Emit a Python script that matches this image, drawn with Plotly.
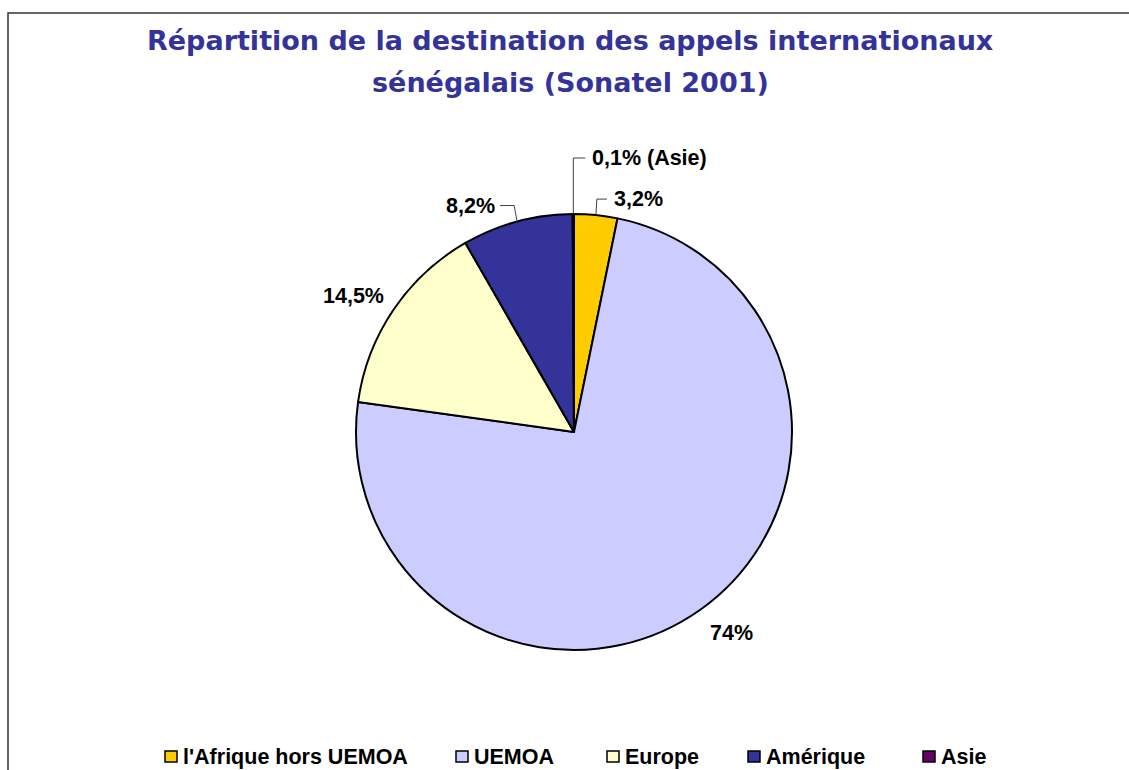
import math
import plotly.graph_objects as go

# Données : répartition des appels internationaux (Sonatel 2001)
categories = ["l'Afrique hors UEMOA", "UEMOA", "Europe", "Amérique", "Asie"]
parts = [3.2, 74.0, 14.5, 8.2, 0.1]
label_texts = ["3,2%", "74%", "14,5%", "8,2%", "0,1% (Asie)"]
colors = ["#FFCC00", "#CCCCFF", "#FFFFCC", "#333399", "#660066"]

W, H = 1129, 770
CX, CY, R = 574, 432, 218  # centre et rayon du camembert (px)

def px(x):
    return x / W

def py(y):
    return 1 - y / H

def polar(angle_deg, r):
    a = math.radians(angle_deg)
    return CX + r * math.sin(a), CY - r * math.cos(a)

LABEL_FONT = dict(family="Liberation Sans, Arial, sans-serif", size=21.5, color="#000000")

fig = go.Figure(go.Pie(
    labels=categories,
    values=parts,
    sort=False,
    direction="clockwise",
    rotation=0,
    marker=dict(colors=colors, line=dict(color="#000000", width=2)),
    textinfo="none",
    hoverinfo="label+percent",
    showlegend=False,
    domain=dict(x=[px(CX - R), px(CX + R)], y=[py(CY + R), py(CY - R)]),
))

# Angles médians de chaque secteur (sens horaire depuis midi)
total = sum(parts)
mids = []
acc = 0.0
for v in parts:
    mids.append((acc + v / 2) / total * 360)
    acc += v

annotations = []
shapes = []

# Étiquettes placées autour du disque (sans ligne de rappel) : rayon, décalage
radial = {1: (257, (9, -9)), 2: (258, (-7, 8))}
for i, (r, (ox, oy)) in radial.items():
    x, y = polar(mids[i], r)
    annotations.append(dict(x=px(x + ox), y=py(y + oy), xref="paper", yref="paper",
                            text=f"<b>{label_texts[i]}</b>", showarrow=False,
                            font=LABEL_FONT, xanchor="center", yanchor="middle"))

# Étiquettes avec ligne de rappel : (décalage du coude, longueur horizontale, côté)
leaders = {
    0: ((1, -16), 10, "right"),
    3: ((-3, -16), -14, "left"),
    4: ((0, -56), 12, "right"),
}
for i, ((dx, dy), hlen, side) in leaders.items():
    ex, ey = polar(mids[i], R)
    kx, ky = ex + dx, ey + dy
    tx = kx + hlen
    for (x0, y0, x1, y1) in [(ex, ey, kx, ky), (kx, ky, tx, ky)]:
        shapes.append(dict(type="line", xref="paper", yref="paper",
                           x0=px(x0), y0=py(y0), x1=px(x1), y1=py(y1),
                           line=dict(color="#404040", width=1)))
    anchor_x = tx + (5 if side == "right" else -3)
    annotations.append(dict(x=px(anchor_x), y=py(ky), xref="paper", yref="paper",
                            text=f"<b>{label_texts[i]}</b>", showarrow=False,
                            font=LABEL_FONT,
                            xanchor="left" if side == "right" else "right",
                            yanchor="middle"))

# Titre sur deux lignes
TITLE_FONT = dict(family="DejaVu Sans, sans-serif", size=27, color="#333399")
for txt, ty in [("Répartition de la destination des appels internationaux", 41),
                ("sénégalais (Sonatel 2001)", 82)]:
    annotations.append(dict(x=px(570), y=py(ty), xref="paper", yref="paper",
                            text=f"<b>{txt}</b>", showarrow=False, font=TITLE_FONT,
                            xanchor="center", yanchor="middle"))

# Légende en bas
legend_x = [165, 456, 607, 748, 923]
LEG_Y0, LEG_Y1 = 751, 762
for name, col, lx in zip(categories, colors, legend_x):
    shapes.append(dict(type="rect", xref="paper", yref="paper",
                       x0=px(lx), x1=px(lx + 12), y0=py(LEG_Y1), y1=py(LEG_Y0),
                       fillcolor=col, line=dict(color="#000000", width=1.5)))
    annotations.append(dict(x=px(lx + 16), y=py((LEG_Y0 + LEG_Y1) / 2), xref="paper", yref="paper",
                            text=f"<b>{name}</b>", showarrow=False,
                            font=LABEL_FONT, xanchor="left", yanchor="middle"))

# Cadre de la zone graphique
shapes.append(dict(type="rect", xref="paper", yref="paper",
                   x0=px(8), x1=px(W + 10), y0=py(H + 10), y1=py(13),
                   line=dict(color="#333333", width=1.5), layer="below"))

fig.update_layout(
    width=W, height=H,
    margin=dict(l=0, r=0, t=0, b=0),
    paper_bgcolor="#FFFFFF",
    plot_bgcolor="#FFFFFF",
    annotations=annotations,
    shapes=shapes,
)

fig.write_html("out.html")
